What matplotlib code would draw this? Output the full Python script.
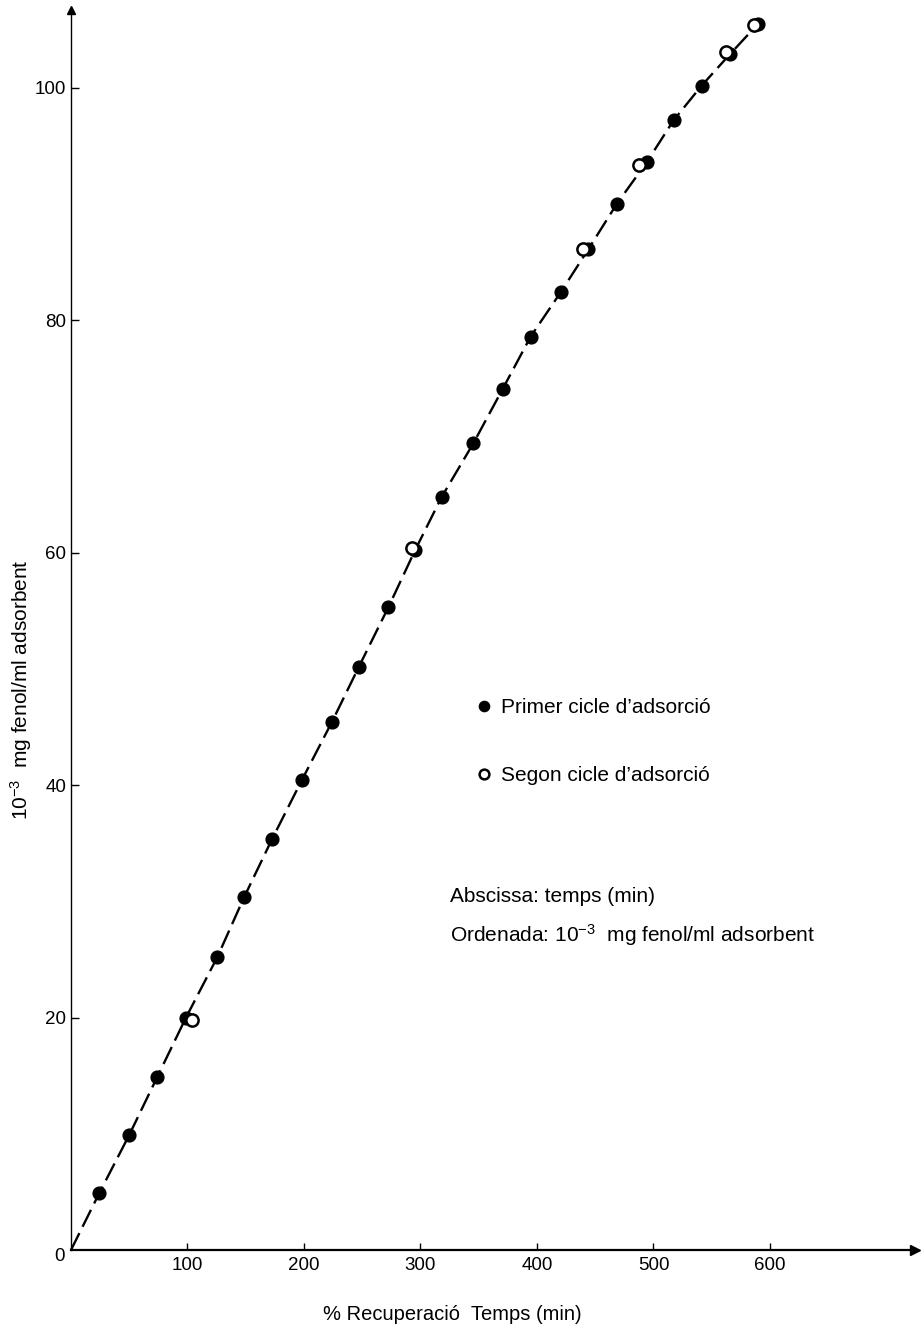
import matplotlib
matplotlib.use('Agg')
import matplotlib.pyplot as plt

plt.rcParams['font.family'] = ['Liberation Sans', 'DejaVu Sans']
plt.rcParams['mathtext.fontset'] = 'custom'
plt.rcParams['mathtext.rm'] = 'Liberation Sans'
plt.rcParams['mathtext.it'] = 'Liberation Sans:italic'
plt.rcParams['mathtext.bf'] = 'Liberation Sans:bold'
plt.rcParams['mathtext.default'] = 'regular'

# ---- data ----
time_first = [24.3, 50.0, 74.1, 98.7, 125.6, 148.8, 172.8, 198.0, 223.8, 247.2,
              272.4, 295.3, 318.2, 345.3, 370.6, 394.6, 420.3, 444.0, 468.4,
              494.2, 517.2, 541.4, 565.7, 589.7]
ads_first = [4.9, 9.9, 14.9, 20.0, 25.2, 30.4, 35.4, 40.4, 45.4, 50.2,
             55.3, 60.2, 64.8, 69.4, 74.1, 78.6, 82.4, 86.1, 90.0,
             93.6, 97.2, 100.2, 102.9, 105.5]
time_second = [103.6, 293.0, 439.7, 487.6, 562.2, 586.5]
ads_second = [19.8, 60.4, 86.1, 93.4, 103.1, 105.4]

x_ticks = [100, 200, 300, 400, 500, 600]
y_ticks = [20, 40, 60, 80, 100]

label_first = 'Primer cicle d\u2019adsorció'
label_second = 'Segon cicle d\u2019adsorció'

W, H = 921, 1331
fig = plt.figure(figsize=(W / 100, H / 100), dpi=100)
ax = fig.add_axes([71 / W, 81 / H, (915 - 71) / W, 1240 / H])
ax.set_xlim(0, 724.5)
ax.set_ylim(0, 106.7)

# dashed curve through origin and first-cycle points
curve_x = [0] + time_first
curve_y = [0] + ads_first
ax.plot(curve_x, curve_y, color='black', lw=1.7, dashes=(8, 3), zorder=2,
        clip_on=False)

ax.plot(time_first, ads_first, 'o', ms=9.2, color='black', zorder=3,
        clip_on=False, label=label_first)
ax.plot(time_second, ads_second, 'o', ms=8.8, mfc='white', mec='black',
        mew=1.8, zorder=4, clip_on=False, label=label_second)

# axes styling
for s in ['top', 'right']:
    ax.spines[s].set_visible(False)
ax.spines['left'].set_linewidth(1.0)
ax.spines['bottom'].set_linewidth(1.6)
ax.plot(1, 0, '>', ms=7, color='black', transform=ax.transAxes, clip_on=False)
ax.plot(0, 1, '^', ms=6, color='black', transform=ax.transAxes, clip_on=False)

ax.set_xticks(x_ticks)
ax.set_yticks(y_ticks)
ax.tick_params(axis='x', direction='in', length=5, width=1.0, pad=5,
               labelsize=13.5)
ax.tick_params(axis='y', direction='in', length=6, width=1.0, pad=3.5,
               labelsize=13.5)
ax.text(-10.3, -0.6, '0', ha='center', va='center', fontsize=13.5,
        clip_on=False)

# labels
fig.text(452 / W, 1 - 1315 / H, '% Recuperació  Temps (min)', ha='center',
         va='center', fontsize=14.5)
fig.text(21 / W, 1 - 690 / H, '$10^{-3}$  mg fenol/ml adsorbent', rotation=90,
         ha='center', va='center', fontsize=15)

fig.text(450 / W, 1 - 902 / H, 'Abscissa: temps (min)', ha='left',
         va='baseline', fontsize=15)
fig.text(450 / W, 1 - 941.7 / H, 'Ordenada: $10^{-3}$  mg fenol/ml adsorbent',
         ha='left', va='baseline', fontsize=15)

ax.legend(loc='center left', bbox_to_anchor=(474 / W, 1 - 741.7 / H),
          bbox_transform=fig.transFigure, frameon=False, fontsize=15,
          markerscale=0.8, handlelength=1.0, handletextpad=0.3,
          labelspacing=2.35, borderpad=0, borderaxespad=0, numpoints=1)

fig.savefig('out.png', dpi=100, facecolor='white')
